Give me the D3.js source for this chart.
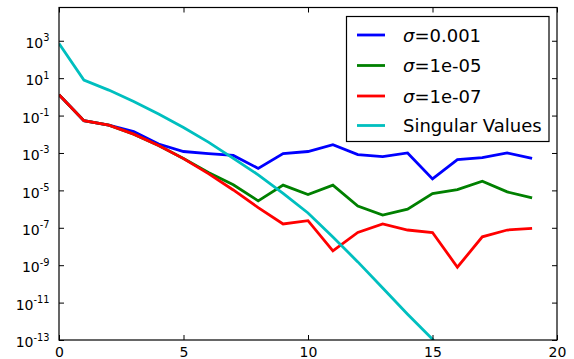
<!DOCTYPE html>
<html>
<head>
<meta charset="utf-8">
<script src="https://cdn.jsdelivr.net/npm/d3@7/dist/d3.min.js"></script>
<style>
  body { margin: 0; background: #fff; }
  svg text { font-family: "DejaVu Sans", sans-serif; fill: #000; }
</style>
</head>
<body>
<svg id="chart" width="574" height="359"></svg>
<script>
// Iteration index along the x axis
const iterations = [0, 1, 2, 3, 4, 5, 6, 7, 8, 9, 10, 11, 12, 13, 14, 15, 16, 17, 18, 19];

// Error per iteration for each noise level
const sigma1e3 = [1.3, 0.053, 0.031, 0.014, 0.003, 0.0012, 9.3e-4, 7.4e-4, 1.5e-4, 9.3e-4,
                  1.2e-3, 2.8e-3, 8.2e-4, 6.4e-4, 1.0e-3, 4.1e-5, 4.4e-4, 5.7e-4, 1.0e-3, 5.2e-4];
const sigma1e5 = [1.3, 0.053, 0.031, 0.0102, 0.0025, 5.1e-4, 9e-5, 2e-5, 2.75e-6, 1.9e-5,
                  6e-6, 1.9e-5, 1.45e-6, 4.8e-7, 1.0e-6, 6.8e-6, 1.1e-5, 3.1e-5, 8.3e-6, 4e-6];
const sigma1e7 = [1.3, 0.053, 0.031, 0.0102, 0.0025, 5e-4, 7.9e-5, 1.05e-5, 1.2e-6, 1.6e-7,
                  2.4e-7, 5.8e-9, 5.6e-8, 1.6e-7, 7.6e-8, 5.6e-8, 7.8e-10, 3.3e-8, 7.6e-8, 9.3e-8];
// Singular values of the operator
const singularValues = [720, 7.9, 2.3, 0.57, 0.12, 0.023, 0.0038, 5.1e-4, 6.8e-5, 6.9e-6,
                        6.2e-7, 3.2e-8, 1.5e-9, 6e-11, 2.4e-12, 1.1e-13, 3e-15, 8e-17, 2e-18, 4e-20];

// Axis ticks
const xTicks = [0, 5, 10, 15, 20];
const yExponents = [3, 1, -1, -3, -5, -7, -9, -11, -13];

// Series labels and colours (legend order)
const seriesLabels = [["σ", "=", "0.001"], ["σ", "=", "1e-05"], ["σ", "=", "1e-07"], [null, null, "Singular Values"]];
const seriesColors = ["#0000ff", "#008000", "#ff0000", "#00bfbf"];
const seriesValues = [sigma1e3, sigma1e5, sigma1e7, singularValues];

const svg = d3.select("#chart");
const plotLeft = 59, plotRight = 557, plotTop = 7.5, plotBottom = 340;

const x = d3.scaleLinear().domain([0, 20]).range([plotLeft, plotRight]);
const y = d3.scaleLog().domain([1e-13, 6e4]).range([plotBottom, plotTop]);

// Clip the data lines to the plotting area
svg.append("defs").append("clipPath").attr("id", "plot-clip")
  .append("rect").attr("x", plotLeft).attr("y", plotTop)
  .attr("width", plotRight - plotLeft).attr("height", plotBottom - plotTop);

const line = d3.line()
  .x((d, i) => x(iterations[i]))
  .y(d => y(d));

const lines = svg.append("g").attr("clip-path", "url(#plot-clip)");
seriesValues.forEach((vals, k) => {
  lines.append("path")
    .datum(vals)
    .attr("d", line)
    .attr("fill", "none")
    .attr("stroke", seriesColors[k])
    .attr("stroke-width", 2.8)
    .attr("stroke-linejoin", "miter");
});

// Frame
svg.append("rect")
  .attr("x", plotLeft).attr("y", plotTop)
  .attr("width", plotRight - plotLeft).attr("height", plotBottom - plotTop)
  .attr("fill", "none").attr("stroke", "#000").attr("stroke-width", 1.2);

const yTickVals = yExponents.map(e => Math.pow(10, e));
const tickLen = 5;

// Bottom axis with labels
const gx = svg.append("g").attr("transform", `translate(0,${plotBottom})`)
  .call(d3.axisBottom(x).tickValues(xTicks).tickSize(-tickLen).tickPadding(0).tickFormat(d3.format("d")));
gx.select(".domain").remove();
gx.selectAll(".tick text").attr("y", 17).attr("dy", 0).style("font-size", "14px");

// Top axis (ticks only)
const gxt = svg.append("g").attr("transform", `translate(0,${plotTop})`)
  .call(d3.axisTop(x).tickValues(xTicks).tickSize(-tickLen).tickFormat(""));
gxt.select(".domain").remove();

// Left axis with power-of-ten labels
const gy = svg.append("g").attr("transform", `translate(${plotLeft},0)`)
  .call(d3.axisLeft(y).tickValues(yTickVals).tickSize(-tickLen).tickFormat(""));
gy.select(".domain").remove();
gy.selectAll(".tick text").each(function(d) {
  const t = d3.select(this)
    .attr("x", -9.5).attr("y", 6.7).attr("dy", 0)
    .attr("text-anchor", "end");
  const exp = Math.round(Math.log10(d));
  t.append("tspan").style("font-size", "14px").text("10");
  t.append("tspan").style("font-size", "9.8px").attr("dy", -6.7).text(String(exp));
});

// Right axis (ticks only)
const gyr = svg.append("g").attr("transform", `translate(${plotRight},0)`)
  .call(d3.axisRight(y).tickValues(yTickVals).tickSize(-tickLen).tickFormat(""));
gyr.select(".domain").remove();

svg.selectAll(".tick line").attr("stroke", "#000").attr("stroke-width", 1);

// Legend
const lg = svg.append("g");
lg.append("rect")
  .attr("x", 346.5).attr("y", 16.5).attr("width", 202.5).attr("height", 125)
  .attr("fill", "#fff").attr("stroke", "#000").attr("stroke-width", 1.2);
const rowY = [35, 65.5, 96, 125.5];
seriesLabels.forEach((lab, k) => {
  lg.append("line")
    .attr("x1", 357).attr("x2", 385)
    .attr("y1", rowY[k]).attr("y2", rowY[k])
    .attr("stroke", seriesColors[k]).attr("stroke-width", 2.8);
  const t = lg.append("text")
    .attr("x", 403).attr("y", rowY[k] + 6.5)
    .style("font-size", "18px");
  if (lab[0]) {
    t.append("tspan").style("font-style", "italic").text(lab[0]);
    t.append("tspan").text(lab[1]);
  }
  t.append("tspan").text(lab[2]);
});
</script>
</body>
</html>
